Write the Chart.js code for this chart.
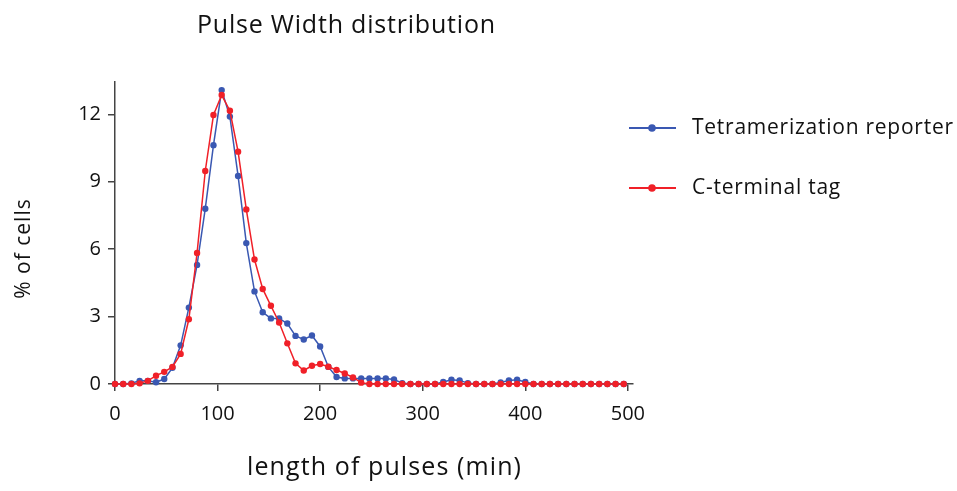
<!DOCTYPE html>
<html>
<head>
<meta charset="utf-8">
<script src="https://cdn.jsdelivr.net/npm/chart.js@4/dist/chart.umd.min.js"></script>
<style>
html,body{margin:0;padding:0;background:#fff;}
#c{display:block;}
</style>
</head>
<body>
<canvas id="c" width="957" height="491"></canvas>
<script>
// pulse length bins (min)
const pulseLength = [0,8,16,24,32,40,48,56,64,72,80,88,96,104,112,120,128,136,144,152,160,168,176,184,192,200,208,216,224,232,240,248,256,264,272,280,288,296,304,312,320,328,336,344,352,360,368,376,384,392,400,408,416,424,432,440,448,456,464,472,480,488,496];
const tetramerization = [0,0,0.03,0.14,0.14,0.08,0.22,0.72,1.72,3.4,5.3,7.8,10.63,13.08,11.9,9.26,6.27,4.12,3.19,2.92,2.92,2.69,2.14,1.98,2.16,1.67,0.76,0.31,0.25,0.25,0.25,0.25,0.25,0.25,0.2,0.04,0,0,0,0,0.09,0.19,0.16,0.04,0,0,0,0.07,0.16,0.19,0.09,0,0,0,0,0,0,0,0,0,0,0,0];
const cTerminal = [0,0,0,0.03,0.14,0.37,0.54,0.76,1.34,2.88,5.83,9.48,11.97,12.86,12.16,10.34,7.77,5.54,4.23,3.48,2.74,1.81,0.92,0.6,0.81,0.89,0.77,0.62,0.47,0.29,0.06,0,0,0,0,0,0,0,0,0,0,0,0,0,0,0,0,0,0,0,0,0,0,0,0,0,0,0,0,0,0,0,0];
const xTicks = [0,100,200,300,400,500];
const yTicks = [0,3,6,9,12];
const seriesNames = ['Tetramerization reporter','C-terminal tag'];
const chartTitle = 'Pulse Width distribution';
const xTitle = 'length of pulses (min)';
const yTitle = '% of cells';

const BLUE = 'rgb(58,88,178)';
const RED = 'rgb(240,32,40)';
const FONT = '"Open Sans", "Liberation Sans", sans-serif';

const toPts = arr => arr.map((v,i)=>({x:pulseLength[i], y:v}));

function spacedText(ctx, txt, x, y, ls, align){
  ctx.letterSpacing = ls + 'px';
  const w = ctx.measureText(txt).width - ls;
  ctx.textAlign = 'left';
  let sx = x;
  if (align === 'center') sx = x - w/2;
  ctx.fillText(txt, sx, y);
  ctx.letterSpacing = '0px';
}

const textPlugin = {
  id:'texts',
  afterDraw(chart){
    const ctx = chart.ctx;
    ctx.save();
    ctx.fillStyle = '#111';
    ctx.textBaseline = 'middle';
    // title
    ctx.font = '25px ' + FONT;
    spacedText(ctx, chartTitle, 346, 26, 0.8, 'center');
    // x title
    ctx.font = '25px ' + FONT;
    spacedText(ctx, xTitle, 384, 468, 1.1, 'center');
    // y title
    ctx.save();
    ctx.translate(24, 249);
    ctx.rotate(-Math.PI/2);
    ctx.font = '21px ' + FONT;
    spacedText(ctx, yTitle, 0, 0, 1.0, 'center');
    ctx.restore();
    // legend
    const cols = [BLUE, RED];
    const ys = [128, 188];
    for (let i=0;i<2;i++){
      ctx.strokeStyle = cols[i];
      ctx.lineWidth = 2;
      ctx.beginPath();
      ctx.moveTo(629, ys[i]); ctx.lineTo(676, ys[i]);
      ctx.stroke();
      ctx.fillStyle = cols[i];
      ctx.beginPath();
      ctx.arc(652, ys[i], 3.8, 0, Math.PI*2);
      ctx.fill();
      ctx.fillStyle = '#111';
      ctx.font = '21px ' + FONT;
      spacedText(ctx, seriesNames[i], 692, ys[i], 0.75, 'left');
    }
    ctx.restore();
  }
};

new Chart(document.getElementById('c'), {
  type:'line',
  data:{
    datasets:[
      {label:seriesNames[0], data:toPts(tetramerization), borderColor:BLUE, backgroundColor:BLUE,
       borderWidth:1.5, pointRadius:3.2, pointHoverRadius:3.2, pointBorderWidth:0, tension:0, clip:false, order:2},
      {label:seriesNames[1], data:toPts(cTerminal), borderColor:RED, backgroundColor:RED,
       borderWidth:1.5, pointRadius:3.2, pointHoverRadius:3.2, pointBorderWidth:0, tension:0, clip:false, order:1}
    ]
  },
  options:{
    responsive:false,
    animation:false,
    devicePixelRatio:1,
    layout:{padding:{left:0, top:82, right:324, bottom:0}},
    plugins:{legend:{display:false}, title:{display:false}, tooltip:{enabled:false}},
    scales:{
      x:{
        type:'linear', min:0, max:505,
        afterBuildTicks(s){ s.ticks = xTicks.map(v=>({value:v})); },
        afterFit(s){ s.height = 107; },
        grid:{display:true, drawOnChartArea:false, drawTicks:true, tickLength:7, color:'#444', lineWidth:1.5},
        border:{display:true, color:'#444', width:1.5},
        ticks:{color:'#111', font:{family:FONT, size:20}, padding:11, maxRotation:0}
      },
      y:{
        min:0, max:13.44,
        afterBuildTicks(s){ s.ticks = yTicks.map(v=>({value:v})); },
        afterFit(s){ s.width = 115; },
        grid:{display:true, drawOnChartArea:false, drawTicks:true, tickLength:7, color:'#444', lineWidth:1.5},
        border:{display:true, color:'#444', width:1.5},
        ticks:{color:'#111', font:{family:FONT, size:20}, padding:7}
      }
    }
  },
  plugins:[textPlugin]
});
</script>
</body>
</html>
